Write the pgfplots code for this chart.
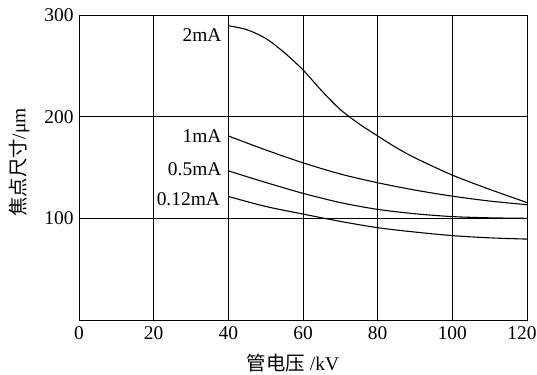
\documentclass[border=0pt]{standalone}
\usepackage{pgfplots}
\pgfplotsset{compat=1.18}
\usepackage{fontspec}
\setmainfont{Liberation Serif}
\newfontfamily\cjk{Noto Sans CJK SC}
\newcommand\bigf{\fontsize{19.5}{23}\selectfont}
\begin{document}
\begin{tikzpicture}
\begin{axis}[
  scale only axis,
  width=448bp, height=305bp,
  xmin=0, xmax=120, ymin=0, ymax=300,
  xtick={0,20,40,60,80,100},
  extra x ticks={120},
  extra x tick style={xticklabel style={xshift=-5bp}},
  ytick={100,200,300},
  tick style={draw=none},
  grid=major,
  major grid style={black, line width=0.6pt},
  axis line style={black, line width=0.8pt},
  /pgf/number format/assume math mode=true,
  ticklabel style={font=\bigf},
  xticklabel style={yshift=-3bp},
  yticklabel style={xshift=-2bp},
  xlabel={{\cjk 管电压} /kV},
  ylabel={{\cjk 焦点尺寸}/μm},
  label style={font=\bigf},
  xlabel style={yshift=-8bp, xshift=-10bp},
  ylabel style={yshift=8bp, xshift=5bp},
  clip=false,
]
\addplot[black, line width=1.1pt, smooth] coordinates {
 (40,289.5) (45,285.5) (50,277) (55,263) (60,246) (65,225.5) (70,207) (75,193) (80,181) (85,169.5) (90,159.5) (100,142.5) (110,128.5) (120,115.5)};
\addplot[black, line width=1.1pt, smooth] coordinates {
 (40,181) (50,167.3) (60,154.6) (70,143.6) (80,135) (90,127.8) (100,121.8) (110,117) (120,113.4)};
\addplot[black, line width=1.1pt, smooth] coordinates {
 (40,146.7) (50,135.3) (60,124.6) (70,115.5) (80,108.8) (90,104.5) (100,101.7) (110,100.5) (120,100)};
\addplot[black, line width=1.1pt, smooth] coordinates {
 (40,121.5) (50,111.7) (60,104.2) (70,97) (80,90.8) (90,86.5) (100,83) (110,80.8) (120,79.6)};
\node[anchor=east, font=\bigf, inner sep=0pt] at (axis cs:38.2,280) {2mA};
\node[anchor=east, font=\bigf, inner sep=0pt] at (axis cs:38.2,180.5) {1mA};
\node[anchor=east, font=\bigf, inner sep=0pt] at (axis cs:38.2,148.7) {0.5mA};
\node[anchor=east, font=\bigf, inner sep=0pt] at (axis cs:37.8,118.5) {0.12mA};
\coordinate (sw) at (rel axis cs:0,0);
\coordinate (ne) at (rel axis cs:1,1);
\end{axis}
\pgfresetboundingbox
\path[use as bounding box] ([xshift=-79bp,yshift=-55bp]sw) rectangle ([xshift=10bp,yshift=15bp]ne);
\end{tikzpicture}
\end{document}
